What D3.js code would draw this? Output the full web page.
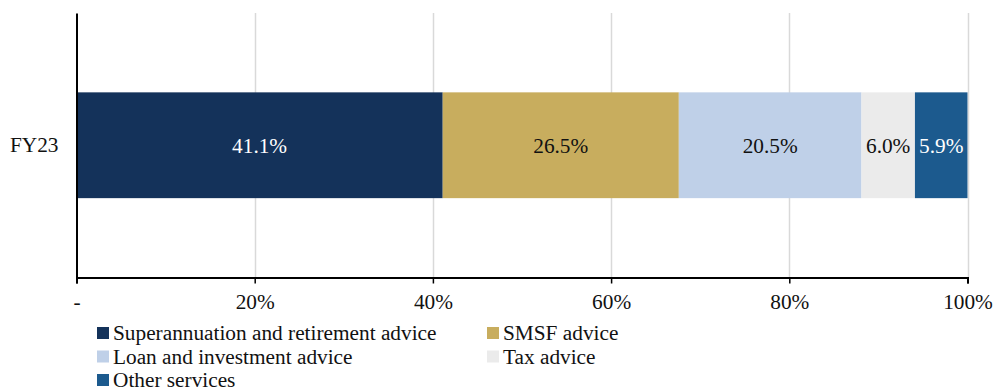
<!DOCTYPE html>
<html><head><meta charset="utf-8">
<script src="https://cdn.jsdelivr.net/npm/d3@7"></script>
<style>body{margin:0;background:#fff}svg{display:block;font-family:"Liberation Serif","Times New Roman",serif}</style>
</head><body><svg id="c" width="996" height="388"></svg>
<script>
const categories = ["FY23"];
const seriesNames = ["Superannuation and retirement advice","SMSF advice","Loan and investment advice","Tax advice","Other services"];
const seriesValues = [41.1, 26.5, 20.5, 6.0, 5.9];
const seriesColors = ["#14325a","#c8ad5e","#bfd0e8","#ebebeb","#1c5a8e"];
const labelColors = ["#ffffff","#111111","#111111","#111111","#ffffff"];
const tickValues = [0,20,40,60,80,100];
const tickLabels = ["-","20%","40%","60%","80%","100%"];

const FS = 21.3;
const FF = "'Liberation Serif','Times New Roman',serif";
const svg = d3.select("#c");
const m = {l:76.5, r:967.5, t:13, b:277.5};
const x = d3.scaleLinear().domain([0,100]).range([m.l, m.r]);
const y = d3.scaleBand().domain(categories).range([m.t, m.b]).paddingInner(0.6).paddingOuter(0.3);

// gridlines
svg.append("g").selectAll("line").data(tickValues.slice(1)).join("line")
  .attr("x1",d=>Math.round(x(d))+0.5).attr("x2",d=>Math.round(x(d))+0.5)
  .attr("y1",m.t).attr("y2",m.b).attr("stroke","#d9d9d9").attr("stroke-width",1.5);

// stacked bars
let cum = 0;
const segs = seriesValues.map((v,i)=>{const s={i,v,x0:cum,x1:cum+v}; cum+=v; return s;});
const g = svg.append("g").attr("font-family",FF);
categories.forEach(cat=>{
  g.selectAll("rect").data(segs).join("rect")
    .attr("x",d=>x(d.x0)).attr("width",d=>x(d.x1)-x(d.x0))
    .attr("y",y(cat)).attr("height",y.bandwidth())
    .attr("fill",d=>seriesColors[d.i]);
  g.selectAll("text").data(segs).join("text")
    .attr("x",d=>(x(d.x0)+x(d.x1))/2).attr("y",y(cat)+y.bandwidth()/2)
    .attr("dy","0.35em").attr("text-anchor","middle")
    .attr("font-size",FS).attr("fill",d=>labelColors[d.i])
    .text(d=>d.v.toFixed(1)+"%");
});

// x axis
const xAxis = d3.axisBottom(x).tickValues(tickValues).tickFormat((d,i)=>tickLabels[i]).tickSize(6).tickPadding(10);
const ax = svg.append("g").attr("transform",`translate(0,${m.b})`).call(xAxis)
  .attr("font-family",FF).attr("font-size",FS);
ax.select(".domain").attr("stroke","#000").attr("stroke-width",2);
ax.selectAll(".tick line").attr("stroke","#000").attr("stroke-width",1.5);
ax.selectAll(".tick text").attr("fill","#111");

// y axis
const yAxis = d3.axisLeft(y).tickSize(0).tickPadding(18);
const ay = svg.append("g").attr("transform",`translate(${m.l},0)`).call(yAxis)
  .attr("font-family",FF).attr("font-size",FS);
ay.select(".domain").attr("stroke","#000").attr("stroke-width",2);
ay.selectAll(".tick text").attr("fill","#111");

// legend
const legPos = [[98,340],[488,340],[98,363.5],[488,363.5],[98,387]];
const lg = svg.append("g").attr("font-family",FF);
seriesNames.forEach((n,i)=>{
  const [lx,ly] = legPos[i];
  lg.append("rect").attr("x",lx-1).attr("y",ly-13).attr("width",12).attr("height",12).attr("fill",seriesColors[i]);
  lg.append("text").attr("x",lx+15).attr("y",ly).attr("font-size",FS).attr("fill","#111").text(n);
});
</script></body></html>
